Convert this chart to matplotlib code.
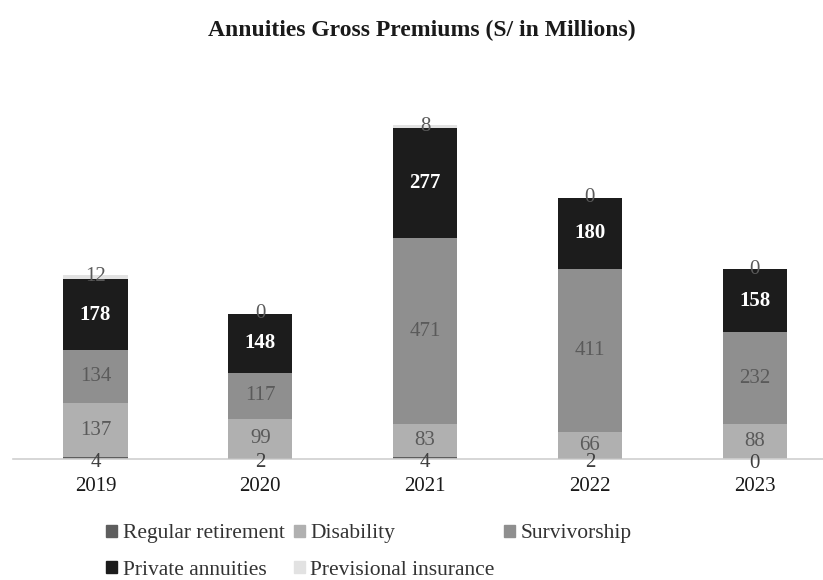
import matplotlib
matplotlib.use('Agg')
import matplotlib.pyplot as plt
from matplotlib.patches import Patch

plt.rcParams['font.family'] = ['Liberation Serif', 'DejaVu Serif']

years = ['2019', '2020', '2021', '2022', '2023']
regular_retirement = [4, 2, 4, 2, 0]
disability = [137, 99, 83, 66, 88]
survivorship = [134, 117, 471, 411, 232]
private_annuities = [178, 148, 277, 180, 158]
previsional_insurance = [12, 0, 8, 0, 0]

series = [
    ('Regular retirement', regular_retirement, '#5e5e5e', '#404040', 'normal', -3),
    ('Disability', disability, '#b0b0b0', '#5a5a5a', 'normal', 0),
    ('Survivorship', survivorship, '#8f8f8f', '#5a5a5a', 'normal', 0),
    ('Private annuities', private_annuities, '#1c1c1c', 'white', 'bold', 0),
    ('Previsional insurance', previsional_insurance, '#e2e2e2', '#5a5a5a', 'normal', 0),
]

fig = plt.figure(figsize=(8.23, 5.8), dpi=100)
ax = fig.add_axes([13 / 823, 121 / 580, 811 / 823, 357 / 580])

x = list(range(len(years)))
bottom = [0] * len(years)
handles = {}
for name, vals, color, tcolor, weight, dy in series:
    bars = ax.bar(x, vals, width=0.39, bottom=bottom, color=color, edgecolor='none')
    for i, b in enumerate(bars):
        ax.annotate(str(vals[i]), (b.get_x() + b.get_width() / 2, bottom[i] + vals[i] / 2),
                    xytext=(0, dy), textcoords='offset points',
                    ha='center', va='center', fontsize=15, color=tcolor, fontweight=weight)
    handles[name] = Patch(color=color)
    bottom = [bottom[i] + vals[i] for i in range(len(years))]

ax.set_xlim(-0.5, 4.42)
ax.set_ylim(0, 900)
ax.set_xticks(x)
ax.set_xticklabels(years, fontsize=15, color='#1a1a1a')
ax.tick_params(axis='x', length=0, pad=13)
ax.set_yticks([])
for s in ['top', 'right', 'left']:
    ax.spines[s].set_visible(False)
ax.spines['bottom'].set_color('#d0d0d0')
ax.spines['bottom'].set_linewidth(1.2)

fig.text(422 / 823, 1 - 30 / 580, 'Annuities Gross Premiums (S/ in Millions)',
         ha='center', va='center', fontsize=17, fontweight='bold', color='#1a1a1a')

order = ['Regular retirement', 'Private annuities', 'Disability',
         'Previsional insurance', 'Survivorship']
fig.legend([handles[n] for n in order], order, ncol=3, frameon=False,
           loc='upper left', bbox_to_anchor=(100 / 823, 1 - 518 / 580),
           fontsize=15.5, handlelength=0.5, handleheight=0.5, handletextpad=0.25,
           columnspacing=0.45, labelspacing=0.8, labelcolor='#333333',
           borderaxespad=0, borderpad=0.3)

fig.savefig('out.png', dpi=100)
